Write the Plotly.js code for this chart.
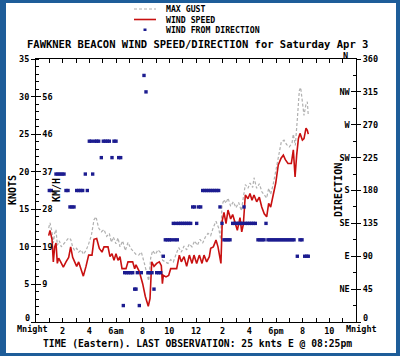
<!DOCTYPE html>
<html>
<head>
<meta charset="utf-8">
<script src="https://cdn.plot.ly/plotly-3.0.1.min.js"></script>
<style>
html,body{margin:0;padding:0;background:#fff;}
#wrap{position:relative;width:400px;height:356px;}
#chart{width:400px;height:356px;}
#frame{position:absolute;left:0;top:0;width:400px;height:356px;box-sizing:border-box;
border-style:solid;border-color:#1e5d99;border-width:3px 4px 3px 6px;pointer-events:none;}
</style>
</head>
<body>
<div id="wrap"><div id="chart"></div><div id="frame"></div></div>
<script>
// ---- data (hours since midnight) ----
const speedHours = [0.95,1.05,1.2,1.3,1.4,1.5,1.6,1.7,1.85,2.05,2.25,2.45,2.6,2.75,2.9,3.05,3.2,3.35,3.55,3.75,3.95,4.2,4.35,4.55,4.75,4.95,5.1,5.4,5.55,5.7,5.85,6.0,6.15,6.3,6.45,6.75,6.9,7.25,7.4,7.5,7.75,8.0,8.2,8.42,8.55,8.68,8.85,9.05,9.25,9.4,9.48,9.55,9.75,9.95,10.1,10.55,10.75,10.9,11.1,11.3,11.5,11.7,11.85,12.05,12.25,12.45,12.6,12.8,13.0,13.1,13.3,13.5,13.65,13.87,13.97,14.1,14.25,14.4,14.6,14.75,14.9,15.1,15.3,15.43,15.55,15.7,15.9,16.05,16.2,16.35,16.55,16.75,16.93,17.12,17.3,17.45,17.6,17.78,17.98,18.17,18.38,18.55,18.7,18.9,19.15,19.3,19.43,19.55,19.68,19.8,19.98,20.1,20.25,20.35,20.42];
const speedKnots = [11.5,12.2,11.0,8.0,10.0,10.5,7.8,8.5,8.0,7.3,8.0,8.6,10.0,8.6,8.0,7.4,8.0,7.1,6.1,7.4,8.9,8.9,11.0,11.1,9.8,9.3,10.0,10.0,8.7,9.1,8.2,9.1,8.2,8.7,7.1,7.1,8.0,8.0,7.1,7.6,6.7,5.1,3.4,2.1,3.1,8.0,7.4,7.8,8.0,7.5,5.1,6.2,6.0,6.2,7.1,7.1,8.9,8.0,8.7,7.4,8.9,7.8,8.9,7.8,8.9,7.8,8.9,8.0,8.7,9.8,10.0,10.9,10.0,7.8,13.5,14.6,13.1,14.9,13.7,14.3,13.5,12.2,13.9,12.0,13.0,16.9,16.4,17.1,16.2,16.9,16.0,16.6,15.3,14.4,14.0,15.8,15.3,16.7,18.5,20.9,21.8,22.2,21.6,21.1,21.1,22.9,19.3,22.2,24.4,25.1,24.2,24.4,25.8,25.5,25.0];

const gustHours = [0.95,1.05,1.2,1.3,1.4,1.5,1.6,1.75,1.9,2.05,2.25,2.45,2.6,2.75,2.9,3.05,3.2,3.4,3.55,3.75,3.95,4.15,4.35,4.5,4.7,4.9,5.1,5.3,5.5,5.65,5.8,6.0,6.15,6.3,6.5,6.7,6.9,7.1,7.3,7.5,7.7,7.9,8.1,8.3,8.45,8.6,8.75,8.95,9.15,9.35,9.5,9.7,9.9,10.1,10.3,10.5,10.7,10.9,11.1,11.3,11.5,11.7,11.9,12.1,12.3,12.5,12.7,12.9,13.1,13.3,13.5,13.7,13.85,13.95,14.1,14.25,14.4,14.6,14.8,15.0,15.2,15.4,15.55,15.7,15.9,16.05,16.25,16.35,16.55,16.75,16.95,17.15,17.3,17.45,17.6,17.8,18.0,18.2,18.4,18.6,18.8,19.0,19.2,19.3,19.45,19.6,19.75,19.85,20.0,20.1,20.25,20.35,20.42];
const gustKnots = [12.5,13.2,12.0,10.5,11.8,12.3,10.2,10.8,10.0,10.3,10.8,11.2,11.0,10.0,9.5,9.8,9.3,9.6,9.0,9.5,10.4,11.5,13.6,14.0,12.5,12.0,12.3,11.4,11.8,10.6,11.3,10.4,11.2,10.0,10.8,9.5,10.6,9.8,9.4,9.0,8.9,9.3,8.0,6.5,5.5,8.5,9.5,9.0,9.6,9.2,8.2,8.0,7.8,8.3,8.0,9.0,9.9,9.3,10.1,9.6,10.4,10.0,10.8,10.2,11.0,10.5,11.3,11.8,11.5,12.6,13.4,12.5,11.0,15.5,16.3,15.8,16.5,15.4,16.0,15.2,15.9,14.8,16.5,18.3,17.8,18.5,17.9,19.2,17.8,18.4,17.3,16.8,16.5,17.8,17.0,18.4,20.3,22.6,24.0,24.2,23.6,23.3,23.8,25.0,23.5,27.0,30.8,31.2,28.5,27.5,29.0,29.3,27.5];

const dirHours = [
 1.0,1.15,1.5,1.65,1.8,1.95,2.1,2.25,2.4,2.55,2.7,2.85,
 3.05,3.2,3.35,3.5,3.7,3.85,4.0,4.15,4.25,4.4,4.55,4.7,
 4.9,5.05,5.2,5.35,5.5,5.7,5.85,6.0,6.2,6.35,6.55,6.65,
 6.8,6.95,7.1,7.25,7.4,7.5,7.6,7.75,7.9,8.1,8.25,8.4,
 8.55,8.7,8.85,9.05,9.2,9.35,9.55,9.7,9.85,10.0,10.15,10.3,
 10.4,10.5,10.6,10.7,10.85,11.0,11.15,11.3,11.45,11.6,11.75,11.9,
 12.05,12.2,12.35,12.5,12.65,12.8,12.95,13.1,13.25,13.4,13.55,13.7,
 13.8,13.95,14.1,14.25,14.4,14.55,14.75,14.9,15.05,15.2,15.35,15.5,
 15.6,15.7,15.85,16.0,16.15,16.3,16.45,16.65,16.8,16.95,17.1,17.25,
 17.4,17.55,17.7,17.85,18.0,18.15,18.3,18.45,18.6,18.75,18.9,19.05,
 19.2,19.35,19.6,19.8,19.95,20.15,20.3,20.42];
const dirDeg = [
 180,180,202.5,202.5,202.5,202.5,202.5,180,180,157.5,157.5,157.5,
 180,180,180,180,202.5,180,247.5,247.5,202.5,247.5,247.5,247.5,
 225,247.5,247.5,247.5,247.5,225,247.5,247.5,225,225,22.5,67.5,
 67.5,67.5,67.5,67.5,45,45,67.5,22.5,67.5,337.5,315,67.5,
 67.5,67.5,45,67.5,67.5,67.5,90,112.5,112.5,112.5,112.5,135,
 112.5,135,112.5,135,135,135,135,135,135,135,157.5,157.5,
 135,157.5,157.5,180,180,180,180,180,180,180,180,180,
 157.5,135,112.5,112.5,112.5,112.5,135,135,135,135,135,135,
 157.5,135,135,135,135,135,135,112.5,112.5,112.5,112.5,135,
 112.5,112.5,112.5,112.5,112.5,112.5,112.5,112.5,112.5,112.5,112.5,112.5,
 112.5,112.5,90,112.5,112.5,90,90,90];

const timeTickVals = [0,2,4,6,8,10,12,14,16,18,20,22,24];
const timeTickText = ['','2','4','6am','8','10','12','2','4','6pm','8','10',''];
const midnightLabel = 'Mnight';
const knotTickVals = [0,5,10,15,20,25,30,35];
const knotTickText = ['','5','10','15','20','25','30','35'];
const kmhTickVals = [5,10,15,20,25,30];
const kmhTickText = ['9','19','28','37','46','56'];
const degTickVals = [0,45,90,135,180,225,270,315,360];
const degTickText = ['','45','90','135','180','225','270','315','360'];
const compassVals = [45,90,135,180,225,270,315,360];
const compassText = ['NE','E','SE','S','SW','W','NW',''];
const northLabel = 'N';

// ---- styling ----
const FF = 'DejaVu Sans Mono, Liberation Mono, monospace';
const tf = {family: FF, size: 8.5, color: '#000', weight: 'bold'};
const lf = {family: FF, size: 8.2, color: '#000', weight: 'bold'};
const px = v => (v - 36) / 320;
const py = v => (322 - v) / 263;

const traces = [
  {x: gustHours, y: gustKnots, name: 'MAX GUST', type: 'scatter', mode: 'lines',
   line: {color: '#b0b0b0', width: 1.2, dash: '3px,2px'}, xaxis: 'x', yaxis: 'y', showlegend: false},
  {x: speedHours, y: speedKnots, name: 'WIND SPEED', type: 'scatter', mode: 'lines',
   line: {color: '#c81010', width: 1.6}, xaxis: 'x', yaxis: 'y', showlegend: false},
  {x: dirHours, y: dirDeg, name: 'WIND FROM DIRECTION', type: 'scatter', mode: 'markers',
   marker: {symbol: 'square', size: 3.4, color: '#1c1c90', line: {width: 0}}, xaxis: 'x', yaxis: 'y2', showlegend: false},
  // invisible anchors so the inner km/h and compass axes are drawn
  {x: [0], y: [0], type: 'scatter', mode: 'markers', marker: {opacity: 0}, xaxis: 'x', yaxis: 'y3', showlegend: false, hoverinfo: 'skip'},
  {x: [0], y: [0], type: 'scatter', mode: 'markers', marker: {opacity: 0}, xaxis: 'x', yaxis: 'y4', showlegend: false, hoverinfo: 'skip'}
];

const layout = {
  width: 400, height: 356,
  margin: {l: 36, r: 44, t: 59, b: 34, pad: 0},
  paper_bgcolor: '#fff', plot_bgcolor: '#fff',
  showlegend: false,
  font: tf,
  xaxis: {range: [0, 24], tickvals: timeTickVals, ticktext: timeTickText, ticks: 'inside', ticklen: 4,
          tickcolor: '#000', showline: true, linecolor: '#000', linewidth: 1, mirror: 'allticks',
          showgrid: false, zeroline: false, tickfont: tf, ticklabelstandoff: 1,
          minor: {dtick: 1, ticks: 'inside', ticklen: 4, tickcolor: '#000', showgrid: false}},
  yaxis: {range: [0, 35], tickvals: knotTickVals, ticktext: knotTickText, ticks: 'outside', ticklen: 4, tickcolor: '#000',
          showline: true, linecolor: '#000', linewidth: 1, showgrid: false, zeroline: false, tickfont: tf,
          minor: {dtick: 1, ticks: 'inside', ticklen: 3, tickcolor: '#000', showgrid: false}},
  yaxis3: {range: [0, 35], overlaying: 'y', side: 'left', anchor: 'x', tickvals: kmhTickVals, ticktext: kmhTickText,
          ticks: 'inside', ticklen: 5, tickcolor: '#000', ticklabelposition: 'inside', showline: false,
          showgrid: false, zeroline: false, tickfont: tf},
  yaxis2: {range: [0, 360], overlaying: 'y', side: 'right', anchor: 'x', tickvals: degTickVals, ticktext: degTickText,
          ticks: 'outside', ticklen: 4, tickcolor: '#000', showline: true, linecolor: '#000', linewidth: 1,
          showgrid: false, zeroline: false, tickfont: tf,
          minor: {tickvals: [22.5,67.5,112.5,157.5,202.5,247.5,292.5,337.5], ticks: 'inside', ticklen: 3, tickcolor: '#000', showgrid: false}},
  yaxis4: {range: [0, 360], overlaying: 'y', side: 'right', anchor: 'x', tickvals: compassVals, ticktext: compassText,
          ticks: 'inside', ticklen: 5, tickcolor: '#000', ticklabelposition: 'inside', showline: false,
          showgrid: false, zeroline: false, tickfont: tf},
  shapes: [
    {type: 'line', xref: 'paper', yref: 'paper', x0: px(134), x1: px(156), y0: py(9), y1: py(9),
     line: {color: '#b0b0b0', width: 1.2, dash: '3px,2px'}},
    {type: 'line', xref: 'paper', yref: 'paper', x0: px(134), x1: px(156), y0: py(19.5), y1: py(19.5),
     line: {color: '#c81010', width: 1.6}},
    {type: 'rect', xref: 'paper', yref: 'paper', x0: px(143.5), x1: px(146.5), y0: py(31), y1: py(28.5),
     fillcolor: '#1c1c90', line: {width: 0}}
  ],
  annotations: [
    {text: '0', xref: 'paper', yref: 'paper', x: px(32), y: py(318), xanchor: 'right', yanchor: 'middle', showarrow: false, font: tf},
    {text: '0', xref: 'paper', yref: 'paper', x: px(361), y: py(318), xanchor: 'left', yanchor: 'middle', showarrow: false, font: tf},
    {text: midnightLabel, xref: 'paper', yref: 'paper', x: px(32), y: py(329), xanchor: 'center', yanchor: 'middle', showarrow: false, font: tf},
    {text: midnightLabel, xref: 'paper', yref: 'paper', x: px(361), y: py(329), xanchor: 'center', yanchor: 'middle', showarrow: false, font: tf},
    {text: northLabel, xref: 'paper', yref: 'paper', x: px(350), y: py(56), xanchor: 'right', yanchor: 'middle', showarrow: false, font: tf},
    {text: 'MAX GUST', xref: 'paper', yref: 'paper', x: px(164), y: py(9), xanchor: 'left', yanchor: 'middle', showarrow: false, font: lf},
    {text: 'WIND SPEED', xref: 'paper', yref: 'paper', x: px(164), y: py(19.5), xanchor: 'left', yanchor: 'middle', showarrow: false, font: lf},
    {text: 'WIND FROM DIRECTION', xref: 'paper', yref: 'paper', x: px(164), y: py(30), xanchor: 'left', yanchor: 'middle', showarrow: false, font: lf},
    {text: 'FAWKNER BEACON WIND SPEED/DIRECTION for Saturday Apr 3', xref: 'paper', yref: 'paper', x: px(197), y: py(44),
     xanchor: 'center', yanchor: 'middle', showarrow: false, font: {family: FF, size: 10.5, color: '#000', weight: 'bold'}},
    {text: 'KNOTS', xref: 'paper', yref: 'paper', x: px(12), y: py(190), textangle: -90, xanchor: 'center', yanchor: 'middle', showarrow: false,
     font: {family: FF, size: 10, color: '#000', weight: 'bold'}},
    {text: 'KM/H', xref: 'paper', yref: 'paper', x: px(56), y: py(190), textangle: -90, xanchor: 'center', yanchor: 'middle', showarrow: false,
     font: {family: FF, size: 10, color: '#000', weight: 'bold'}},
    {text: 'DIRECTION', xref: 'paper', yref: 'paper', x: px(338), y: py(190), textangle: -90, xanchor: 'center', yanchor: 'middle', showarrow: false,
     font: {family: FF, size: 10, color: '#000', weight: 'bold'}},
    {text: 'TIME (Eastern). LAST OBSERVATION: 25 knts E @ 08:25pm', xref: 'paper', yref: 'paper', x: px(197), y: py(343),
     xanchor: 'center', yanchor: 'middle', showarrow: false, font: {family: FF, size: 9.7, color: '#000', weight: 'bold'}}
  ]
};

Plotly.newPlot('chart', traces, layout, {staticPlot: true, displayModeBar: false});
</script>
</body>
</html>
